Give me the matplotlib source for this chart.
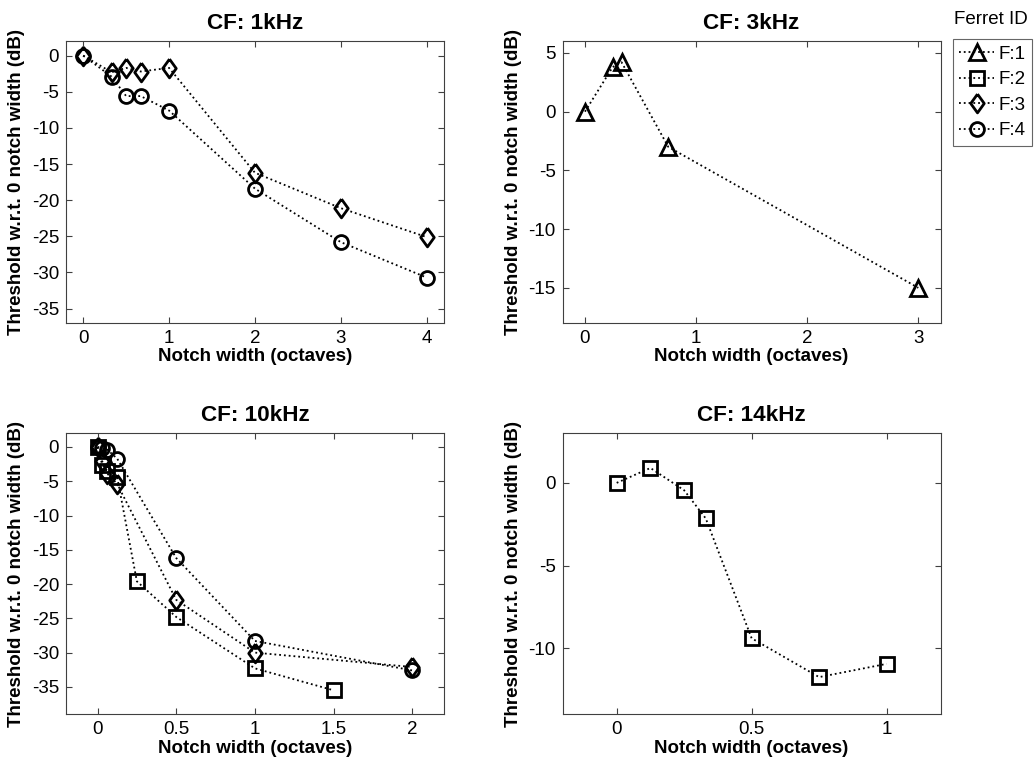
import matplotlib
matplotlib.use("Agg")
import matplotlib.pyplot as plt
from matplotlib.lines import Line2D

plt.rcParams['font.family'] = ['Liberation Sans', 'DejaVu Sans']
plt.rcParams['font.size'] = 13.5
plt.rcParams['axes.unicode_minus'] = False

# -----------------------------------------------------------------------------
# Data
# -----------------------------------------------------------------------------
ferrets = ["F:1", "F:2", "F:3", "F:4"]
# MATLAB-like diamond: a bit narrower than tall
diamond = [(0, 1), (0.72, 0), (0, -1), (-0.72, 0), (0, 1)]
markers = {"F:1": "^", "F:2": "s", "F:3": diamond, "F:4": "o"}
msizes = {"F:1": 11, "F:2": 10, "F:3": 13.5, "F:4": 10}

# CF: 1kHz
cf1_f3_x = [0, 0.33, 0.5, 0.67, 1, 2, 3, 4]
cf1_f3_y = [0, -2.3, -1.7, -2.2, -1.7, -16.2, -21.1, -25.1]
cf1_f4_x = [0, 0.33, 0.5, 0.67, 1, 2, 3, 4]
cf1_f4_y = [0, -2.9, -5.6, -5.6, -7.6, -18.4, -25.8, -30.7]

# CF: 3kHz
cf3_f1_x = [0, 0.25, 0.33, 0.75, 3]
cf3_f1_y = [0, 3.8, 4.2, -3.0, -15.0]

# CF: 10kHz
cf10_f2_x = [0, 0.03, 0.0625, 0.125, 0.25, 0.5, 1, 1.5]
cf10_f2_y = [0, -2.6, -3.5, -4.4, -19.6, -24.8, -32.3, -35.5]
cf10_f3_x = [0, 0.03, 0.0625, 0.125, 0.5, 1, 2]
cf10_f3_y = [0, -2.1, -3.9, -5.4, -22.3, -30.0, -32.1]
cf10_f4_x = [0, 0.03, 0.0625, 0.125, 0.5, 1, 2]
cf10_f4_y = [0, -0.1, -0.4, -1.7, -16.2, -28.3, -32.6]

# CF: 14kHz
cf14_f2_x = [0, 0.125, 0.25, 0.33, 0.5, 0.75, 1]
cf14_f2_y = [0, 0.9, -0.45, -2.15, -9.4, -11.75, -10.95]

panels = [
    {"title": "CF: 1kHz", "series": {"F:3": (cf1_f3_x, cf1_f3_y), "F:4": (cf1_f4_x, cf1_f4_y)},
     "xlim": (-0.2, 4.2), "ylim": (-37, 2), "xticks": [0, 1, 2, 3, 4],
     "yticks": [0, -5, -10, -15, -20, -25, -30, -35]},
    {"title": "CF: 3kHz", "series": {"F:1": (cf3_f1_x, cf3_f1_y)},
     "xlim": (-0.2, 3.2), "ylim": (-18, 6), "xticks": [0, 1, 2, 3],
     "yticks": [5, 0, -5, -10, -15]},
    {"title": "CF: 10kHz", "series": {"F:2": (cf10_f2_x, cf10_f2_y), "F:3": (cf10_f3_x, cf10_f3_y),
                                      "F:4": (cf10_f4_x, cf10_f4_y)},
     "xlim": (-0.2, 2.2), "ylim": (-39, 2), "xticks": [0, 0.5, 1, 1.5, 2],
     "yticks": [0, -5, -10, -15, -20, -25, -30, -35]},
    {"title": "CF: 14kHz", "series": {"F:2": (cf14_f2_x, cf14_f2_y)},
     "xlim": (-0.2, 1.2), "ylim": (-14, 3), "xticks": [0, 0.5, 1],
     "yticks": [0, -5, -10]},
]

# axes rectangles in figure fractions [left, bottom, width, height]
rects = [
    [0.0638, 0.576, 0.365, 0.370],
    [0.5437, 0.576, 0.365, 0.370],
    [0.0638, 0.0626, 0.365, 0.3688],
    [0.5437, 0.0626, 0.365, 0.3688],
]

fig = plt.figure(figsize=(10.35, 7.62), dpi=100)

style = dict(color="black", linestyle=":", linewidth=1.3,
             markerfacecolor="none", markeredgecolor="black", markeredgewidth=2)

for p, r in zip(panels, rects):
    ax = fig.add_axes(r)
    for fid in ferrets:
        if fid in p["series"]:
            x, y = p["series"][fid]
            ax.plot(x, y, marker=markers[fid], markersize=msizes[fid], **style)
    ax.set_xlim(*p["xlim"])
    ax.set_ylim(*p["ylim"])
    ax.set_xticks(p["xticks"])
    ax.set_xticklabels([f"{t:g}" for t in p["xticks"]])
    ax.set_yticks(p["yticks"])
    ax.tick_params(direction="in", top=True, right=True, length=4, width=0.8,
                   colors="#404040", labelcolor="black", pad=5)
    for s in ax.spines.values():
        s.set_color("#404040")
        s.set_linewidth(0.8)
    ax.set_title(p["title"], fontweight="bold", pad=9)
    ax.set_xlabel("Notch width (octaves)", fontweight="bold", labelpad=1)
    ax.set_ylabel("Threshold w.r.t. 0 notch width (dB)", fontweight="bold")
    ax.yaxis.set_label_coords(-0.108, 0.5)

# Legend for all ferrets, outside the top-right panel
handles = [Line2D([0], [0], marker=markers[f], markersize=msizes[f], **style) for f in ferrets]
leg = fig.legend(handles, ferrets, loc="upper left", bbox_to_anchor=(0.9205, 0.9488),
                 frameon=True, fancybox=False, handlelength=1.85, handletextpad=0.25,
                 labelspacing=0.45, borderpad=0.35, borderaxespad=0)
leg.get_frame().set_edgecolor("#404040")
leg.get_frame().set_linewidth(0.8)
fig.text(0.9573, 0.9738, "Ferret ID", ha="center", va="center")

fig.savefig("out.png", dpi=100)
